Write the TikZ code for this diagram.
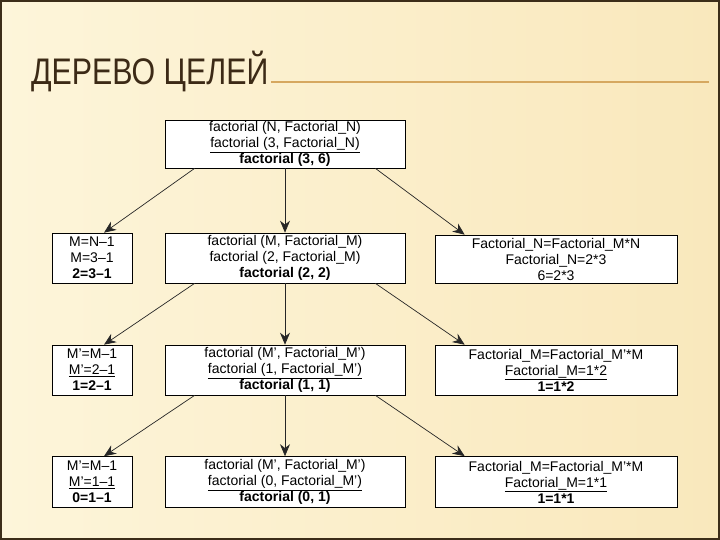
\documentclass[tikz,border=0pt]{standalone}
\usepackage{fontspec}
\setmainfont{Liberation Sans}
\usetikzlibrary{arrows.meta}
\definecolor{bgL}{RGB}{253,245,218}
\definecolor{bgR}{RGB}{249,232,188}
\definecolor{titlec}{RGB}{60,42,22}
\definecolor{rulec}{RGB}{214,168,96}
\definecolor{framec}{RGB}{60,45,25}
\tikzset{
  box/.style={draw=black, line width=0.6pt, fill=white, inner sep=0pt, align=center,
    font=\fontsize{14}{16}\selectfont},
  lbox/.style={box, minimum width=80},
  mbox/.style={box, minimum width=240},
  rbox/.style={box, minimum width=242},
  arr/.style={draw=black!85, line width=0.7pt, -{Stealth[length=12pt,width=10pt]}},
}
\begin{document}
\begin{tikzpicture}[x=1pt,y=-1pt]
\useasboundingbox (0,0) rectangle (720,540);
\shade[left color=bgL, right color=bgR] (0,0) rectangle (720,540);
\draw[framec, line width=2pt] (1,1) rectangle (719,539);
\node[anchor=base west, text=titlec, inner sep=0pt] (title) at (31,85)
  {\scalebox{0.82}[1]{\fontsize{37}{40}\selectfont ДЕРЕВО ЦЕЛЕЙ}};
\draw[rulec, line width=1.2pt] (271,82) -- (709,82);

% row 1
\node[mbox, minimum height=48] (t) at (285,144)
  {factorial (N, Factorial\_N)\\ \underline{factorial (3, Factorial\_N)}\\ \textbf{factorial (3, 6)}};
% row 2
\node[lbox, minimum height=50] (l2) at (92,258) {M=N–1\\ M=3–1\\ \textbf{2=3–1}};
\node[mbox, minimum height=50] (m2) at (285,258)
  {factorial (M, Factorial\_M)\\ factorial (2, Factorial\_M)\\ \textbf{factorial (2, 2)}};
\node[rbox, minimum height=48] (r2) at (556,259)
  {Factorial\_N=Factorial\_M*N\\ Factorial\_N=2*3\\ 6=2*3};
% row 3
\node[lbox, minimum height=50] (l3) at (92,370) {M’=M–1\\ \underline{M’=2–1}\\ \textbf{1=2–1}};
\node[mbox, minimum height=50] (m3) at (285,370)
  {factorial (M’, Factorial\_M’)\\ \underline{factorial (1, Factorial\_M’)}\\ \textbf{factorial (1, 1)}};
\node[rbox, minimum height=50] (r3) at (556,370)
  {Factorial\_M=Factorial\_M’*M\\ \underline{Factorial\_M=1*2}\\ \textbf{1=1*2}};
% row 4
\node[lbox, minimum height=51] (l4) at (92,482) {M’=M–1\\ \underline{M’=1–1}\\ \textbf{0=1–1}};
\node[mbox, minimum height=51] (m4) at (285,482)
  {factorial (M’, Factorial\_M’)\\ \underline{factorial (0, Factorial\_M’)}\\ \textbf{factorial (0, 1)}};
\node[rbox, minimum height=51] (r4) at (556,482)
  {Factorial\_M=Factorial\_M’*M\\ \underline{Factorial\_M=1*1}\\ \textbf{1=1*1}};

% arrows
\draw[arr] ([xshift=30]t.south west) -- ([xshift=12]l2.north);
\draw[arr] (t.south) -- (m2.north);
\draw[arr] ([xshift=-30]t.south east) -- ([xshift=30]r2.north west);
\draw[arr] ([xshift=30]m2.south west) -- ([xshift=12]l3.north);
\draw[arr] (m2.south) -- (m3.north);
\draw[arr] ([xshift=-30]m2.south east) -- ([xshift=30]r3.north west);
\draw[arr] ([xshift=30]m3.south west) -- ([xshift=12]l4.north);
\draw[arr] (m3.south) -- (m4.north);
\draw[arr] ([xshift=-30]m3.south east) -- ([xshift=30]r4.north west);
\end{tikzpicture}
\end{document}
